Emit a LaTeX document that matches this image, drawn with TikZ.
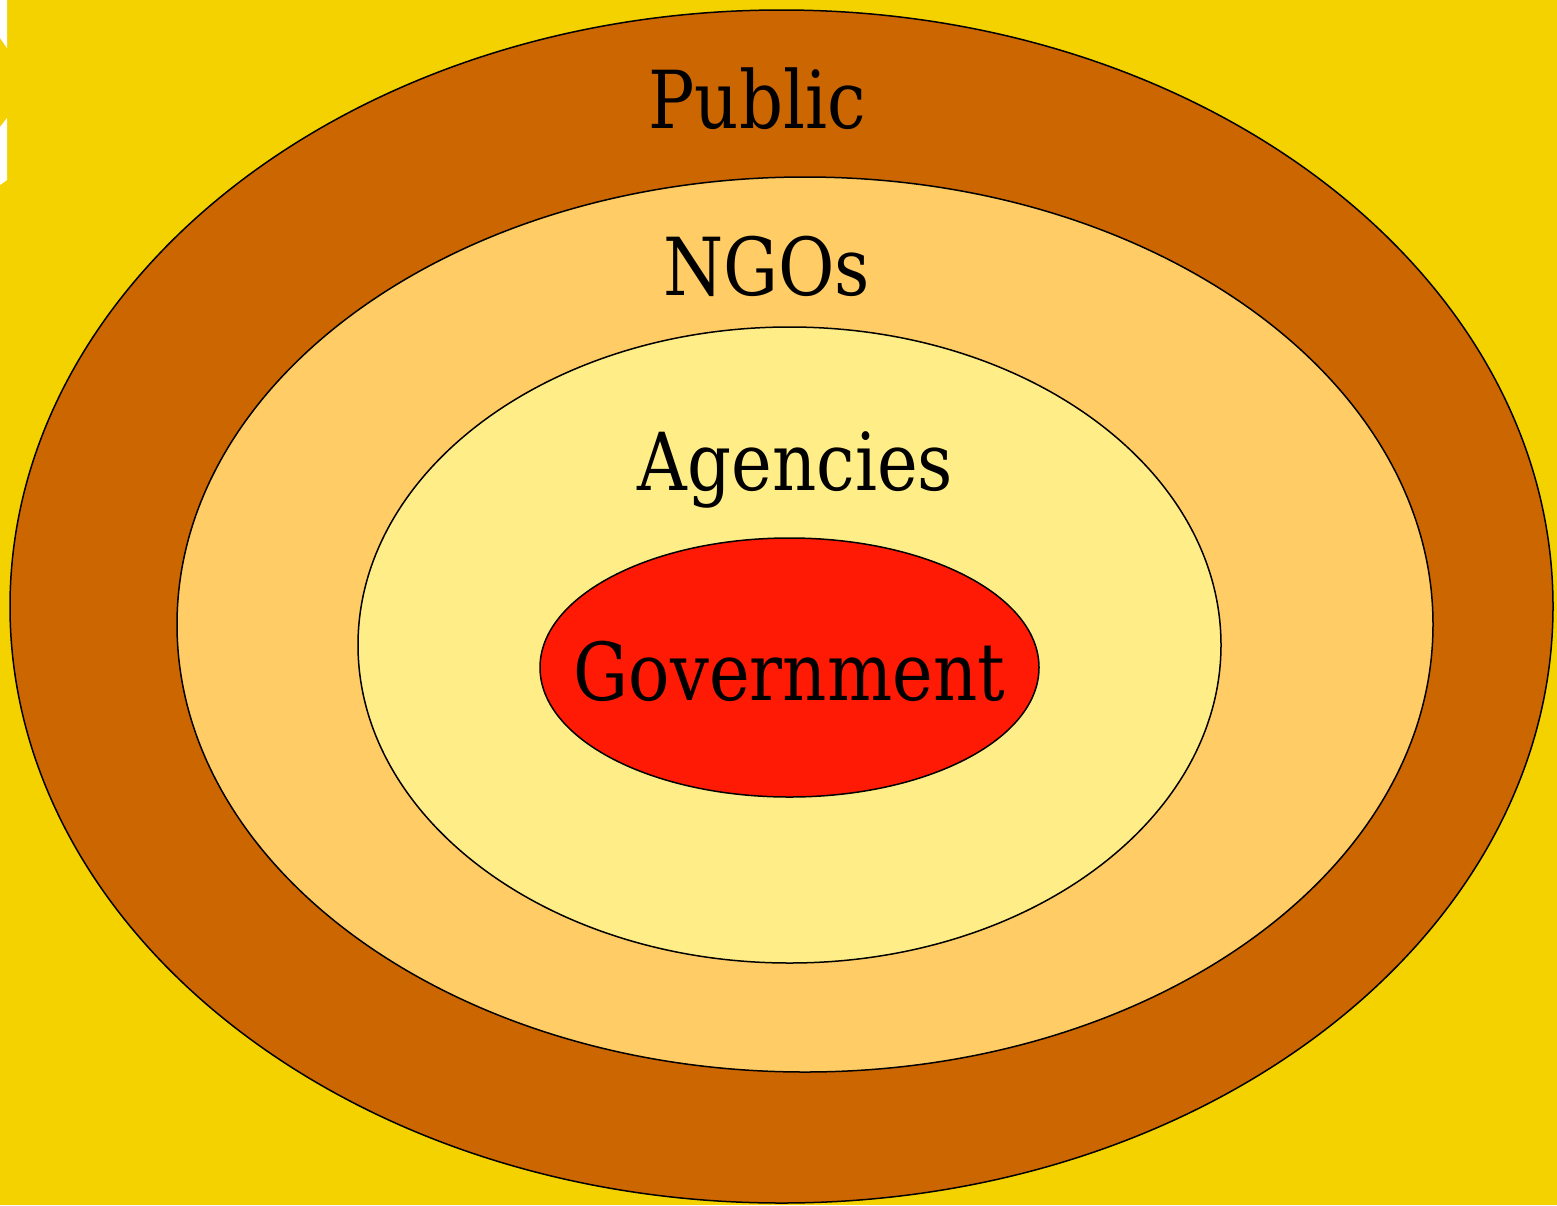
\documentclass[tikz,border=0pt]{standalone}
\usepackage{fontspec}
\setmainfont{DejaVu Serif}[FakeStretch=0.86]
\definecolor{bgyellow}{HTML}{F4D200}
\definecolor{pubbrown}{HTML}{CC6600}
\definecolor{ngoorange}{HTML}{FFCC66}
\definecolor{agyellow}{HTML}{FFEE88}
\definecolor{govred}{HTML}{FF1A05}
\tikzset{
  ring/.style={draw=black, line width=0.75pt},
  lbl/.style={anchor=base, inner sep=0pt, font=\fontsize{40}{48}\selectfont, text=black}
}
\begin{document}
\begin{tikzpicture}[x=0.5pt,y=-0.5pt]
\useasboundingbox (0,0) rectangle (1557,1205);
\fill[bgyellow] (0,0) rectangle (1557,1205);
\fill[white] (0,0) -- (7,0) -- (7,48) -- (0,38) -- cycle;
\fill[white] (0,127) -- (7,118) -- (7,180) -- (0,185) -- cycle;
\draw[ring, fill=pubbrown] (781.5,606.5) ellipse [x radius=385.75pt, y radius=298.25pt];
\draw[ring, fill=ngoorange] (805,624.5) ellipse [x radius=314pt, y radius=223.75pt];
\draw[ring, fill=agyellow] (789.5,645) ellipse [x radius=215.75pt, y radius=159pt];
\draw[ring, fill=govred] (789.5,667.5) ellipse [x radius=124.75pt, y radius=64.75pt];
\node[lbl] (public) at (757,128) {Public};
\node[lbl] (ngos) at (766.5,295) {NGOs};
\node[lbl] (agencies) at (795.5,490) {Agencies};
\node[lbl] (gov) at (789.5,700) {Government};
\end{tikzpicture}
\end{document}
